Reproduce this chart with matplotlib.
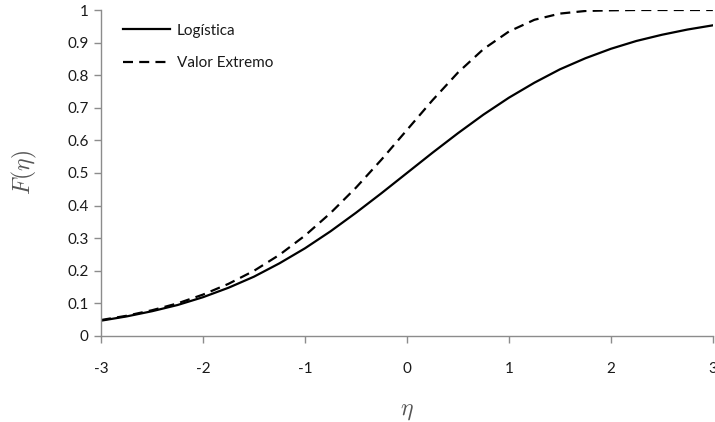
import numpy as np
import matplotlib.pyplot as plt

# valores (paso 0.25 en eta)
eta = [-3.0, -2.75, -2.5, -2.25, -2.0, -1.75, -1.5, -1.25, -1.0, -0.75, -0.5, -0.25,
       0.0, 0.25, 0.5, 0.75, 1.0, 1.25, 1.5, 1.75, 2.0, 2.25, 2.5, 2.75, 3.0]
logistica = [0.047, 0.060, 0.076, 0.095, 0.119, 0.148, 0.182, 0.223, 0.269, 0.321,
             0.378, 0.438, 0.500, 0.562, 0.622, 0.679, 0.731, 0.777, 0.818, 0.852,
             0.881, 0.905, 0.924, 0.940, 0.953]
valor_extremo = [0.049, 0.062, 0.079, 0.100, 0.127, 0.160, 0.200, 0.249, 0.308, 0.377,
                 0.455, 0.541, 0.632, 0.723, 0.808, 0.880, 0.934, 0.970, 0.989, 0.997,
                 0.999, 1.000, 1.000, 1.000, 1.000]

x_ticks = [-3, -2, -1, 0, 1, 2, 3]
y_ticks = [0, 0.1, 0.2, 0.3, 0.4, 0.5, 0.6, 0.7, 0.8, 0.9, 1]

plt.rcParams['font.family'] = ['Lato', 'DejaVu Sans']
plt.rcParams['mathtext.fontset'] = 'cm'

fig = plt.figure(figsize=(7.15, 4.22), dpi=100)
ax = fig.add_axes([0.1413, 0.2038, 0.8557, 0.7725])

ax.plot(eta, logistica, color='black', lw=1.6, label='Logística')
ax.plot(eta, valor_extremo, color='black', lw=1.6, dashes=(4.5, 2.8), label='Valor Extremo')

ax.set_xlim(-3, 3)
ax.set_ylim(0, 1)
ax.set_xticks(x_ticks)
ax.set_xticklabels([str(t) for t in x_ticks])
ax.set_yticks(y_ticks)
ax.set_yticklabels(['0' if t == 0 else ('1' if t == 1 else '%.1f' % t) for t in y_ticks])

for s in ['top', 'right']:
    ax.spines[s].set_visible(False)
for s in ['left', 'bottom']:
    ax.spines[s].set_color('#8c8c8c')
    ax.spines[s].set_linewidth(1.0)
ax.tick_params(axis='both', colors='#8c8c8c', labelcolor='#1a1a1a', labelsize=11,
               direction='out', length=5, width=1.0)
ax.tick_params(axis='x', pad=14)
ax.tick_params(axis='y', pad=4)

ax.set_xlabel(r'$\eta$', fontsize=17, color='#555555', labelpad=18)
ax.set_ylabel(r'$F(\eta)$', fontsize=17, color='#555555', labelpad=20)

leg = ax.legend(loc='upper left', frameon=False, fontsize=11, handlelength=3.1,
                handletextpad=0.45, labelspacing=1.2, bbox_to_anchor=(0.013, 1.0))
for t in leg.get_texts():
    t.set_color('#1a1a1a')

fig.savefig('out.png', dpi=100)
